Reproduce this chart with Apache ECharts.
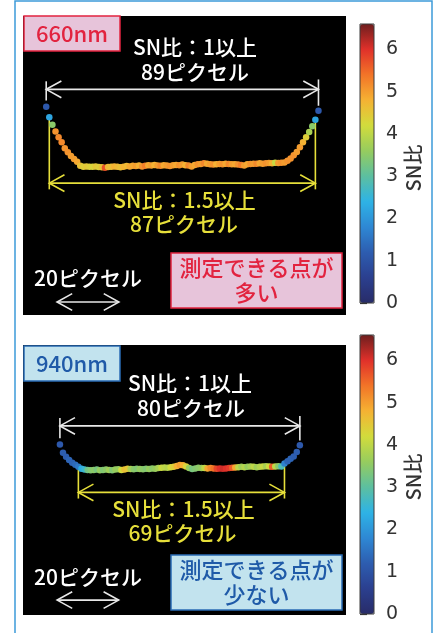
<!DOCTYPE html>
<html><head><meta charset="utf-8">
<script src="https://cdn.jsdelivr.net/npm/echarts@6/dist/echarts.min.js"></script>
<style>html,body{margin:0;padding:0;background:#fff}#c{width:435px;height:633px}</style>
</head><body><div id="c"></div>
<script>
// ---- Panel 1 (660nm): pixel position, row position, SN ratio ----
const px1 = [8,9,10,11,12,13,14,15,16,17,18,19,20,21,22,23,24,25,26,27,28,29,30,31,32,33,34,35,36,37,38,39,40,41,42,43,44,45,46,47,48,49,50,51,52,53,54,55,56,57,58,59,60,61,62,63,64,65,66,67,68,69,70,71,72,73,74,75,76,77,78,79,80,81,82,83,84,85,86,87,88,89,90,91,92,93,94,95,96];
const row1 = [29.3,32.7,35.1,37.3,39.2,40.8,42.7,44.0,45.2,46.2,47.1,48.4,
  48.7,48.6,48.7,48.7,48.6,48.8,48.9,49.0,48.8,48.7,48.6,48.7,48.9,48.7,48.5,48.6,48.4,48.5,48.3,48.6,48.4,48.2,48.3,48.1,48.3,48.4,48.2,48.3,48.5,48.2,48.1,48.2,48.0,48.2,48.3,48.6,48.1,47.9,47.8,47.6,47.7,47.9,48.0,47.9,47.8,47.9,47.7,47.8,47.9,47.9,48.0,48.1,48.3,47.9,47.8,47.7,47.7,47.6,47.7,47.6,47.5,47.6,47.4,47.5,47.4,
  47.3,46.8,46.0,45.0,43.9,42.4,40.8,39.2,37.5,35.6,33.5,30.6];
const sn1 = [1.1,2.2,3.5,5.1,5.2,5.2,5.1,5.1,5.0,5.0,4.9,4.6,
  4.4,4.5,4.4,4.3,4.5,4.4,4.6,
  5.7,
  4.7,4.6,4.8,4.7,4.6,4.8,4.7,4.9,
  4.9,5.0,4.8,5.1,5.3,4.9,5.0,4.8,5.0,5.2,4.9,5.0,5.1,
  5.0,4.9,5.1,5.0,4.8,5.2,5.0,4.9,5.1,5.0,5.2,4.9,5.0,5.1,4.8,5.0,5.1,4.9,5.2,5.0,4.9,5.1,5.3,5.0,4.9,5.1,5.0,5.2,4.9,5.0,5.1,5.0,4.8,4.1,5.0,5.1,
  5.0,5.1,5.1,5.1,5.0,5.0,4.8,4.4,3.8,3.5,2.2,1.1];

// ---- Panel 2 (940nm) ----
const px2 = [12,13,14,15,16,17,18,19,20,21,22,23,24,25,26,27,28,29,30,31,32,33,34,35,36,37,38,39,40,41,42,43,44,45,46,47,48,49,50,51,52,53,54,55,56,57,58,59,60,61,62,63,64,65,66,67,68,69,70,71,72,73,74,75,76,77,78,79,80,81,82,83,84,85,86,87,88,89,90];
const row2 = [32.3,35.0,36.3,37.4,38.3,38.9,39.6,40.2,
  40.5,40.6,40.7,40.6,40.5,40.7,40.6,40.5,40.6,40.7,40.5,40.4,40.6,40.5,40.2,40.3,40.4,40.2,40.3,40.4,40.2,40.3,40.1,40.2,40.0,39.9,39.8,39.9,39.7,39.6,39.3,39.0,39.1,39.5,40.0,40.3,40.1,39.9,40.0,40.0,40.1,40.0,40.1,40.2,40.1,40.2,40.1,40.0,39.9,39.8,39.7,39.6,39.7,39.6,39.5,39.6,39.7,39.6,39.5,39.4,39.5,39.6,39.5,39.4,
  39.5,38.5,37.8,37.0,36.2,34.8,32.6];
const sn2 = [1.1,1.2,1.2,1.3,1.3,1.4,1.6,2.3,
  2.6,3.2,3.4,3.5,3.3,3.6,3.4,3.5,3.7,3.4,3.6,3.6,4.2,4.6,4.5,3.8,3.5,3.4,3.6,3.5,3.4,3.6,3.5,3.6,3.8,4.1,4.0,3.9,4.2,4.4,4.8,5.0,4.8,4.3,3.6,3.3,3.4,3.5,3.6,4.0,4.9,5.2,5.4,5.8,6.0,6.1,6.0,5.9,5.6,4.9,4.0,3.7,3.9,3.6,3.8,4.0,3.7,3.9,4.1,3.8,4.2,5.6,4.0,3.5,
  2.8,1.7,1.3,1.3,1.2,1.2,1.1];

// ---- colour bar ----
const cbTicks = [0,1,2,3,4,5,6];
const cbMax = 6.6;
const snThreshold = 1.5;
const scaleLen = 20; // 20 pixels

const cmap = ['#282c68','#2b3f8f','#2d5db0','#2e88d4','#2eb3e6','#5cbfa0','#96cc5e','#d2dc3c','#f5b233','#f27428','#e0302a','#6e1e1e'];

const FONT = '"Noto Sans CJK JP","Noto Sans",sans-serif';

function toData(xs, ys, ss){ return xs.map((x,i)=>[x, ys[i], ss[i]]); }

function annotations(xs, ys, ss, L){
  const segs = [];
  const W = {color:'#e8e8e8', width:1.6, opacity:1};
  const Y = {color:'#e6df3a', width:1.6, opacity:1};
  const iL = 0, iR = xs.length-1;
  let jL = ss.findIndex(v=>v>=snThreshold);
  let jR = ss.length-1; while (ss[jR] < snThreshold) jR--;
  function arrow(a,b,y,st){
    segs.push({coords:[[a,y],[b,y]], lineStyle:st});
    segs.push({coords:[[a+L.dx,y-L.dy],[a,y],[a+L.dx,y+L.dy]], lineStyle:st});
    segs.push({coords:[[b-L.dx,y-L.dy],[b,y],[b-L.dx,y+L.dy]], lineStyle:st});
  }
  arrow(xs[iL], xs[iR], L.whiteY, W);
  segs.push({coords:[[xs[iL],L.whiteY-2.6],[xs[iL],ys[iL]-2]], lineStyle:W});
  segs.push({coords:[[xs[iR],L.whiteY-3.2],[xs[iR],ys[iR]-1.6]], lineStyle:W});
  arrow(xs[jL], xs[jR], L.yellowY, Y);
  segs.push({coords:[[xs[jL],ys[jL]],[xs[jL],L.yellowY+2]], lineStyle:Y});
  segs.push({coords:[[xs[jR],ys[jR]],[xs[jR],L.yellowY+2]], lineStyle:Y});
  arrow(L.scaleX, L.scaleX+scaleLen, L.scaleY, W);
  return segs;
}

const lay1 = {whiteY:23.7, yellowY:54.0, scaleY:92.4, scaleX:11.5, dx:4.9, dy:2.7};
const lay2 = {whiteY:26.3, yellowY:47.9, scaleY:82.9, scaleX:11.1, dx:4.9, dy:2.7};

function txt(x,y,t,color,size,extra){
  return Object.assign({type:'text', x:x, y:y, z:100,
    style:{text:t, fill:color, font:'500 '+size+'px '+FONT, align:'center', verticalAlign:'middle'}}, extra||{});
}
function box(x,y,w,h,fill,stroke){
  return {type:'rect', z:99, shape:{x:x,y:y,width:w,height:h}, style:{fill:fill, stroke:stroke, lineWidth:1.5}};
}

const red = '#e2233f', pink = '#e7c4da';
const blue = '#1f5aa8', lblue = '#c2e3ee', bstroke = '#2a6cb5';
const yel = '#e6df3a';

const cbAxis = (gi)=>({gridIndex:gi, type:'value', position:'right', min:0, max:cbMax,
  axisLine:{show:false}, splitLine:{show:false},
  axisTick:{show:true, inside:false, length:7, customValues:cbTicks, lineStyle:{color:'#333', width:1.2}},
  axisLabel:{show:true, customValues:cbTicks, color:'#333', fontSize:19, fontFamily:'DejaVu Sans', margin:12}});

const option = {
  backgroundColor:'#ffffff',
  animation:false,
  grid:[
    {left:23, top:16, width:323, height:299, show:true, backgroundColor:'#000', borderWidth:0},
    {left:23, top:345, width:323, height:270, show:true, backgroundColor:'#000', borderWidth:0},
    {left:360, top:24, width:14, height:279, show:true, backgroundColor:'transparent', borderColor:'#3a3a3a', borderWidth:1, z:10},
    {left:360, top:335, width:14, height:279, show:true, backgroundColor:'transparent', borderColor:'#3a3a3a', borderWidth:1, z:10}
  ],
  xAxis:[
    {gridIndex:0, type:'value', min:0.5, max:104.9, show:false},
    {gridIndex:1, type:'value', min:0, max:105, show:false},
    {gridIndex:2, type:'value', min:0, max:1, show:false},
    {gridIndex:3, type:'value', min:0, max:1, show:false}
  ],
  yAxis:[
    {gridIndex:0, type:'value', min:0, max:96.6, inverse:true, show:false},
    {gridIndex:1, type:'value', min:0, max:87.75, inverse:true, show:false},
    cbAxis(2), cbAxis(3)
  ],
  visualMap:[
    {type:'continuous', seriesIndex:0, dimension:2, min:0, max:cbMax, inRange:{color:cmap},
     calculable:false, hoverLink:false, left:360, top:24, itemWidth:14, itemHeight:279, padding:0, text:null, orient:'vertical'},
    {type:'continuous', seriesIndex:1, dimension:2, min:0, max:cbMax, inRange:{color:cmap},
     calculable:false, hoverLink:false, left:360, top:335, itemWidth:14, itemHeight:279, padding:0, text:null, orient:'vertical'}
  ],
  series:[
    {type:'scatter', xAxisIndex:0, yAxisIndex:0, data:toData(px1,row1,sn1), symbolSize:6.5, z:5, itemStyle:{opacity:1}},
    {type:'scatter', xAxisIndex:1, yAxisIndex:1, data:toData(px2,row2,sn2), symbolSize:6.5, z:5, itemStyle:{opacity:1}},
    {type:'lines', coordinateSystem:'cartesian2d', xAxisIndex:0, yAxisIndex:0, polyline:true, z:3,
     data:annotations(px1,row1,sn1,lay1)},
    {type:'lines', coordinateSystem:'cartesian2d', xAxisIndex:1, yAxisIndex:1, polyline:true, z:3,
     data:annotations(px2,row2,sn2,lay2)}
  ],
  graphic:[
    {type:'rect', z:98, shape:{x:15, y:1, width:417, height:700}, style:{fill:'none', stroke:'#3d9bd9', lineWidth:1.5}},
    // panel 1
    box(24,16,96,35,pink,red),
    txt(72,34,'660nm',red,22),
    txt(195,47,'SN比：1以上','#ffffff',21),
    txt(195,72,'89ピクセル','#ffffff',21),
    txt(184.5,200,'SN比：1.5以上',yel,21),
    txt(184,224,'87ピクセル',yel,21),
    txt(88,278,'20ピクセル','#ffffff',21),
    box(171,253,171,55,pink,red),
    txt(256.5,268,'測定できる点が',red,22),
    txt(256.5,293,'多い',red,22),
    txt(413,168,'SN比','#333',20,{rotation:Math.PI/2}),
    // panel 2
    box(24,346,96,35,lblue,bstroke),
    txt(72,364,'940nm',blue,22),
    txt(190,383,'SN比：1以上','#ffffff',21),
    txt(191,408,'80ピクセル','#ffffff',21),
    txt(183.5,509,'SN比：1.5以上',yel,21),
    txt(182.5,533,'69ピクセル',yel,21),
    txt(88,577,'20ピクセル','#ffffff',21),
    box(171,555,171,55,lblue,bstroke),
    txt(256.5,570,'測定できる点が',blue,22),
    txt(256.5,595,'少ない',blue,22),
    txt(413,477,'SN比','#333',20,{rotation:Math.PI/2})
  ]
};
const chart = echarts.init(document.getElementById('c'), null, {renderer:'canvas'});
chart.setOption(option);
</script></body></html>
